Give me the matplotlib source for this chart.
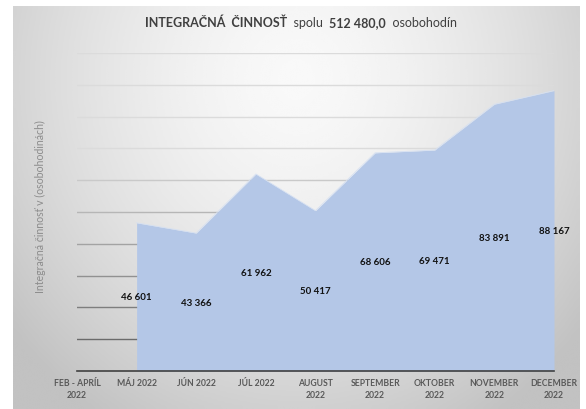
import numpy as np
import matplotlib.pyplot as plt

# --- data ---
categories = ["FEB - APRÍL\n2022", "MÁJ 2022", "JÚN 2022", "JÚL 2022", "AUGUST\n2022",
              "SEPTEMBER\n2022", "OKTOBER\n2022", "NOVEMBER\n2022", "DECEMBER\n2022"]
hours = [np.nan, 46601, 43366, 61962, 50417, 68606, 69471, 83891, 88167]
grid_values = [10000, 20000, 30000, 40000, 50000, 60000, 70000, 80000, 90000, 100000]

plt.rcParams['font.family'] = ['Lato', 'DejaVu Sans']

W, H = 586, 410
fig = plt.figure(figsize=(W / 100, H / 100), dpi=100, facecolor="white")

# --- gray gradient chart background ---
bg = fig.add_axes([13 / W, 0, 567 / W, 403 / H])
bg.set_axis_off()
yy, xx = np.mgrid[0:1:200j, 0:1:300j]
r = np.sqrt(((xx - 0.5) / 0.62) ** 2 + ((yy - 0.82) / 0.95) ** 2)
shade = np.clip(0.975 - 0.2 * r ** 1.6, 0.76, 0.975)
bg.imshow(shade, cmap="gray", vmin=0, vmax=1, extent=[0, 1, 0, 1],
          origin="lower", aspect="auto", interpolation="bicubic")
bg.set_xlim(0, 1); bg.set_ylim(0, 1)

# --- plot area ---
ax = fig.add_axes([77 / W, 38 / H, 477 / W, 318 / H])
ax.patch.set_alpha(0)
x = np.arange(len(categories))
y = np.array(hours, dtype=float)

# gridlines (darker towards the bottom, like the reference)
light = np.array([0.86, 0.86, 0.86])
dark = np.array([0.42, 0.42, 0.42])
for g in grid_values:
    t = g / max(grid_values)
    col = dark + (light - dark) * np.clip((t - 0.1) / 0.6, 0, 1)
    ax.axhline(g, color=col, linewidth=1.0, zorder=1)

mask = ~np.isnan(y)
ax.fill_between(x[mask], 0, y[mask], color="#b4c7e7", linewidth=0, zorder=2)
ax.plot(x[mask], y[mask], color="#d5e0f2", linewidth=0.6, zorder=2)

for xi, yi in zip(x[mask], y[mask]):
    ax.text(xi, yi / 2, f"{int(yi):,}".replace(",", " "), ha="center", va="center",
            fontsize=7, fontweight="bold", color="#111111", zorder=3)

ax.set_xlim(0, len(categories) - 1)
ax.set_ylim(0, 100000)
for s in ["top", "right", "left"]:
    ax.spines[s].set_visible(False)
ax.spines["bottom"].set_color("#404040")
ax.spines["bottom"].set_linewidth(1.2)
ax.spines["bottom"].set_zorder(4)
ax.set_yticks([])
ax.set_xticks(x)
ax.set_xticklabels(categories, fontsize=6.2, fontweight="bold", color="#595959",
                   linespacing=1.45)
ax.tick_params(axis="x", length=0, pad=5)

fig.text(40 / W, 1 - 207 / H, "Integračná činnosť v (osobohodinách)", rotation=90,
         ha="center", va="center", fontsize=7.6, color="#8c8c8c")

# --- title with mixed weights ---
parts = [("INTEGRAČNÁ  ČINNOSŤ", "bold"), ("  spolu  ", "normal"),
         ("512 480,0", "bold"), ("  osobohodín", "normal")]
renderer = fig.canvas.get_renderer()
texts = []
for s, w in parts:
    t = fig.text(0, 1 - 23 / H, s, fontsize=9, fontweight=w, color="#404040",
                 ha="left", va="center")
    texts.append(t)
widths = [t.get_window_extent(renderer).width for t in texts]
xpos = 301 - sum(widths) / 2
for t, wd in zip(texts, widths):
    t.set_x(xpos / W)
    xpos += wd

fig.savefig("out.png", dpi=100, facecolor="white")
